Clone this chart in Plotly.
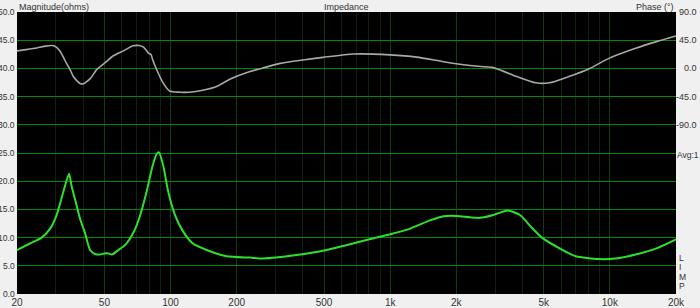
import plotly.graph_objects as go
import math

# Magnitude (ohms) vs frequency (Hz)
mag_freq = [20, 23, 25.9, 28.3, 30.3, 32.5, 34.5, 35.5, 36.8, 38.7, 40.8, 43.0, 45.3, 47.8, 50,
            52.2, 54.1, 57.9, 62.2, 67.6, 72.4, 78.1, 82.7, 86.6, 88.6, 92.8, 97.3, 104.1, 114,
            126, 146, 180, 230, 264, 375, 500, 636, 812, 1000, 1234, 1526, 1751, 2010, 2310,
            2560, 2950, 3420, 3900, 4400, 4940, 6100, 7000, 8900, 10600, 13100, 16300, 20000]
mag_ohm = [7.8, 9.0, 10.0, 11.6, 14.0, 18.1, 21.3, 19.0, 16.7, 13.4, 10.8, 7.8, 7.1, 7.0, 7.2,
           7.2, 7.0, 7.8, 8.7, 10.8, 13.7, 18.4, 22.6, 24.9, 25.1, 22.6, 18.4, 14.3, 11.1,
           9.0, 7.8, 6.7, 6.45, 6.3, 6.9, 7.7, 8.7, 9.75, 10.6, 11.6, 13.1, 13.8, 13.85, 13.6,
           13.5, 14.0, 14.8, 14.0, 11.8, 9.9, 7.8, 6.7, 6.2, 6.3, 7.0, 8.1, 9.7]

# Phase (degrees) vs frequency (Hz)
ph_freq = [20, 22, 24.6, 27, 28.5, 29.5, 31.2, 32.5, 33.6, 35, 36.1, 37.5, 38.7, 40, 43.2, 46.2,
           51, 54.7, 61, 67.6, 72, 75.5, 79.3, 81.5, 82.7, 86.6, 92.8, 99, 110, 122, 140, 162,
           187, 230, 260, 315, 400, 494, 679, 1000, 1320, 1750, 2310, 2950, 3770, 4600, 5300,
           6500, 8100, 9900, 13100, 16300, 20000]
ph_deg = [28, 30, 32.6, 35.5, 36.5, 36, 29, 18, 8, -3, -13, -20, -24, -24.7, -16, -1.5,
          10.7, 19.8, 28, 36, 36.5, 33.6, 24.5, 22, 15, -2.6, -24, -36, -38, -38, -35, -29,
          -17, -5, 0, 8, 13.5, 17.6, 23, 21.6, 18, 10.7, 4.5, 1.2, -13, -23, -23,
          -13, 0, 16, 32, 42.7, 51.7]

x_major = [20, 50, 100, 200, 500, 1000, 2000, 5000, 10000, 20000]
x_major_text = ["20", "50", "100", "200", "500", "1k", "2k", "5k", "10k", "20k"]
x_minor = [30, 40, 60, 70, 80, 90, 300, 400, 600, 700, 800, 900,
           3000, 4000, 6000, 7000, 8000, 9000]
y_left = [0, 5, 10, 15, 20, 25, 30, 35, 40, 45, 50]
y_left_text = ["0.0", "5.0", "10.0", "15.0", "20.0", "25.0", "30.0", "35.0", "40.0", "45.0", "50.0"]
y_right = [-90, -45, 0, 45, 90]
y_right_text = ["-90.0", "-45.0", "0.0", "45.0", "90.0"]
limp_letters = ["L", "I", "M", "P"]
limp_y = [6.4, 4.75, 3.05, 1.4]

FONT = "Liberation Sans"
TXT = "#333333"
FS = 9

fig = go.Figure()
fig.add_trace(go.Scatter(x=ph_freq, y=ph_deg, yaxis="y2", mode="lines",
                         line=dict(color="#a8a8a8", width=1.6, shape="spline", smoothing=0.6),
                         hoverinfo="skip", showlegend=False))
fig.add_trace(go.Scatter(x=mag_freq, y=mag_ohm, mode="lines",
                         line=dict(color="#2ee02e", width=2, shape="spline", smoothing=0.6),
                         hoverinfo="skip", showlegend=False))

annotations = [
    dict(text="Magnitude(ohms)", xref="paper", yref="paper", x=0.0, y=1.0,
         xanchor="left", yanchor="bottom", showarrow=False, yshift=-2,
         font=dict(family=FONT, size=FS, color=TXT)),
    dict(text="Impedance", xref="paper", yref="paper", x=0.5, y=1.0,
         xanchor="center", yanchor="bottom", showarrow=False, yshift=-2,
         font=dict(family=FONT, size=FS, color=TXT)),
    dict(text="Phase (°)", xref="paper", yref="paper", x=1.0, y=1.0,
         xanchor="right", yanchor="bottom", showarrow=False, yshift=-2,
         font=dict(family=FONT, size=FS, color=TXT)),
    dict(text="Avg:1", xref="paper", yref="y", x=1.0, y=24.6,
         xanchor="left", yanchor="middle", showarrow=False, xshift=-1,
         font=dict(family=FONT, size=8.5, color=TXT)),
]
for ch, yy in zip(limp_letters, limp_y):
    annotations.append(dict(text=ch, xref="paper", yref="y", x=1.0, y=yy,
                            xanchor="left", yanchor="middle", showarrow=False, xshift=2,
                            borderpad=0, font=dict(family=FONT, size=8.5, color=TXT)))
for val, lab in zip(y_left, y_left_text):
    annotations.append(dict(text=lab, xref="paper", yref="y", x=0.0, y=val,
                            xanchor="right", yanchor="middle", showarrow=False, xshift=-1,
                            borderpad=0, font=dict(family=FONT, size=8.5, color=TXT)))
for val, lab in zip(y_right, y_right_text):
    annotations.append(dict(text=lab, xref="paper", yref="y2", x=1.0, y=val,
                            xanchor="right", yanchor="middle", showarrow=False, xshift=22,
                            borderpad=0, font=dict(family=FONT, size=FS, color=TXT)))

fig.update_layout(
    width=700, height=308, autosize=False,
    margin=dict(l=17, r=24, t=12, b=14, autoexpand=False),
    paper_bgcolor="#f0f0f0", plot_bgcolor="#000000",
    font=dict(family=FONT, size=FS, color=TXT),
    xaxis=dict(type="log", range=[math.log10(20), math.log10(20000)], automargin=False,
               tickvals=x_major, ticktext=x_major_text, ticks="",
               showgrid=True, gridcolor="#163816", gridwidth=1,
               minor=dict(tickvals=x_minor, showgrid=True, gridcolor="#112211", gridwidth=1, ticks=""),
               zeroline=False, showline=False, ticklabelstandoff=1,
               tickfont=dict(family=FONT, size=10, color=TXT)),
    yaxis=dict(range=[0, 50], tickvals=y_left, showticklabels=False, ticks="", automargin=False,
               showgrid=True, gridcolor="#008a00", gridwidth=1, zeroline=False,
               showline=False),
    yaxis2=dict(range=[-360, 90], overlaying="y", side="right", tickvals=y_right, automargin=False,
                showticklabels=False, ticks="", showgrid=False, zeroline=False, showline=False),
    annotations=annotations,
)

fig.write_html("out.html")
